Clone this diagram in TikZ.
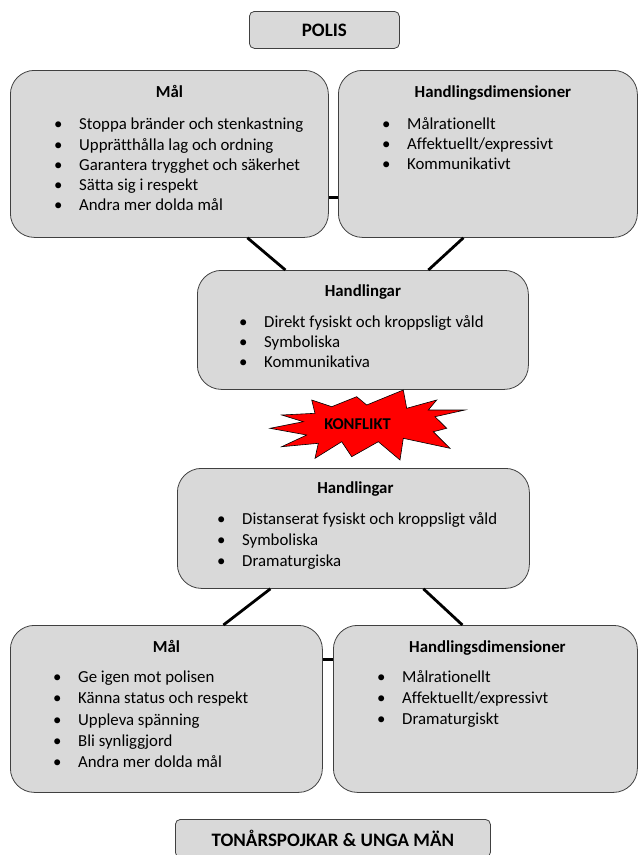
\documentclass[tikz,border=0pt]{standalone}
\usepackage{fontspec}
\setmainfont{Carlito}[Ligatures=NoCommon]
\usetikzlibrary{positioning}

\newcommand{\bul}{\makebox[25pt][l]{\textbullet}}

\begin{document}
\begin{tikzpicture}[
    x=1pt, y=-1pt,
    box/.style={draw=black!75, fill=black!15, line width=0.8pt,
      rounded corners=24pt, anchor=north west, inner sep=0pt},
    label box/.style={box, rounded corners=5pt,
      font=\bfseries\fontsize{19}{21}\selectfont},
    title/.style={anchor=base, font=\bfseries\fontsize{16.8}{20}\selectfont},
    items/.style={anchor=north west, align=left, inner sep=0pt,
      font=\fontsize{16.8}{20.2}\selectfont},
    wide items/.style={items, font=\fontsize{16.8}{21.1}\selectfont},
    link/.style={line width=2.8pt}
  ]

    \useasboundingbox (0, 0) rectangle (638, 855);
    \clip (0, 0) rectangle (638, 855);

    \node [label box, minimum width=150pt, minimum height=37pt]
    (polis) at (249, 11) {POLIS};

    \node [box, minimum width=318pt, minimum height=167pt] (malA) at (10, 70) {};
    \node [box, minimum width=299pt, minimum height=167pt] (dimA) at (338, 70) {};
    \node [box, minimum width=331pt, minimum height=119pt] (handA) at (197, 270) {};

    \node [title] (malAt) at ([yshift=-27.5pt]malA.north) {Mål};
    \node [items] (malAl) at ([xshift=44pt, yshift=-48pt]malA.north west)
    {\bul Stoppa bränder och stenkastning\\
      \bul Upprätthålla lag och ordning\\
      \bul Garantera trygghet och säkerhet\\
      \bul Sätta sig i respekt\\
      \bul Andra mer dolda mål};

    \node [title] (dimAt) at ([xshift=5pt, yshift=-27.5pt]dimA.north)
    {Handlingsdimensioner};
    \node [items] (dimAl) at ([xshift=44pt, yshift=-47pt]dimA.north west)
    {\bul Målrationellt\\
      \bul Affektuellt/expressivt\\
      \bul Kommunikativt};

    \node [title] (handAt) at ([yshift=-26.5pt]handA.north) {Handlingar};
    \node [items] (handAl) at ([xshift=42pt, yshift=-45pt]handA.north west)
    {\bul Direkt fysiskt och kroppsligt våld\\
      \bul Symboliska\\
      \bul Kommunikativa};

    \draw [link] ([yshift=-43.5pt]malA.east) -- ([yshift=-43.5pt]dimA.west);
    \draw [link] ([xshift=78pt]malA.south) -- ([xshift=-77.5pt]handA.north);
    \draw [link] ([xshift=-24.5pt]dimA.south) -- ([xshift=65.5pt]handA.north);

    \draw [fill=red, draw=black, line width=0.6pt]
    (311.7, 400) -- (331.7, 406.7) -- (356.7, 396.7) -- (366.7, 405)
    -- (403.3, 390) -- (406.7, 408.3) -- (436.7, 400) -- (428.3, 410)
    -- (465, 410) -- (435, 416.7) -- (446.7, 428.3) -- (433.3, 431.7)
    -- (450, 448.3) -- (403.3, 438.3) -- (400, 460) -- (378.3, 441.7)
    -- (351.7, 456.7) -- (341.7, 441.7) -- (315, 458.3) -- (318.3, 443.3)
    -- (281.7, 446.7) -- (306.7, 435) -- (270, 428.3) -- (303.3, 421.7)
    -- (281.7, 415) -- (315, 413.3) -- cycle;
    \node [font=\bfseries\fontsize{16.5}{18}\selectfont] (konflikt)
    at (357.5, 424) {KONFLIKT};

    \node [box, minimum width=352pt, minimum height=120pt] (handB) at (177, 468) {};
    \node [box, minimum width=312pt, minimum height=167pt] (malB) at (10, 625) {};
    \node [box, minimum width=304pt, minimum height=167pt] (dimB) at (333, 625) {};

    \node [title] (handBt) at ([xshift=2pt, yshift=-25.5pt]handB.north) {Handlingar};
    \node [wide items] (handBl) at ([xshift=40pt, yshift=-44.5pt]handB.north west)
    {\bul Distanserat fysiskt och kroppsligt våld\\
      \bul Symboliska\\
      \bul Dramaturgiska};

    \node [title] (malBt) at ([yshift=-27.5pt]malB.north) {Mål};
    \node [wide items] (malBl) at ([xshift=43pt, yshift=-46pt]malB.north west)
    {\bul Ge igen mot polisen\\
      \bul Känna status och respekt\\
      \bul Uppleva spänning\\
      \bul Bli synliggjord\\
      \bul Andra mer dolda mål};

    \node [title] (dimBt) at ([xshift=2pt, yshift=-27.5pt]dimB.north)
    {Handlingsdimensioner};
    \node [wide items] (dimBl) at ([xshift=44pt, yshift=-45.5pt]dimB.north west)
    {\bul Målrationellt\\
      \bul Affektuellt/expressivt\\
      \bul Dramaturgiskt};

    \draw [link] ([yshift=49.5pt]malB.east) -- ([yshift=49.5pt]dimB.west);
    \draw [link] ([xshift=-83pt]handB.south) -- ([xshift=57pt]malB.north);
    \draw [link] ([xshift=70pt]handB.south) -- ([xshift=-23pt]dimB.north);

    \node [label box, minimum width=315pt, minimum height=38pt]
    (unga) at (175, 819) {TONÅRSPOJKAR \& UNGA MÄN};

  \end{tikzpicture}
\end{document}
